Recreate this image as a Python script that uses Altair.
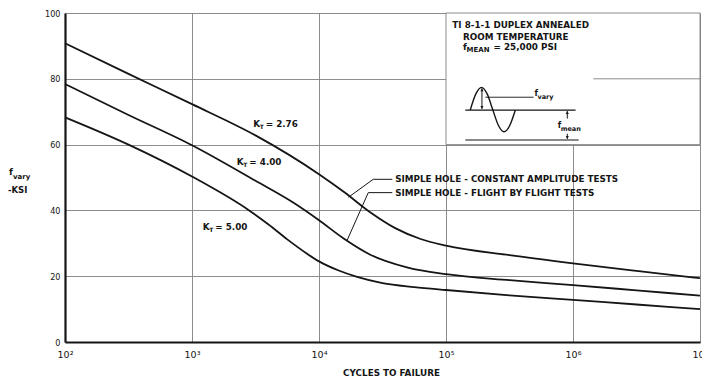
import altair as alt
import pandas as pd

# ---- S-N curves: log10(cycles to failure) and alternating stress f_vary (ksi) ----
kt276_logn = [2.0, 2.5, 3.0, 3.5, 4.0, 4.2, 4.4, 4.6, 4.8, 5.0, 5.5, 6.0, 6.5, 7.0]
kt276_ksi = [90.8, 81.5, 72.3, 62.8, 51.0, 45.5, 39.5, 34.6, 31.3, 29.3, 26.4, 23.9, 21.6, 19.4]

kt400_logn = [2.0, 2.5, 3.0, 3.5, 3.8, 4.0, 4.2, 4.4, 4.7, 5.0, 5.5, 6.0, 6.5, 7.0]
kt400_ksi = [78.4, 69.0, 59.8, 49.0, 42.3, 37.0, 31.3, 26.6, 22.6, 20.6, 18.8, 17.3, 15.7, 14.1]

kt500_logn = [2.0, 2.5, 3.0, 3.45, 3.6, 3.75, 3.9, 4.0, 4.15, 4.3, 4.5, 4.75, 5.0, 5.5, 6.0, 6.5, 7.0]
kt500_ksi = [68.3, 60.0, 50.3, 40.0, 35.8, 31.2, 27.0, 24.5, 21.8, 19.8, 17.9, 16.7, 15.8, 14.2, 12.8, 11.4, 10.0]

# Kt labels next to each curve
kt_values = ["= 2.76", "= 4.00", "= 5.00"]
kt_label_logn = [3.482, 3.353, 3.085]
kt_label_ksi = [66.3, 54.8, 35.0]

# test-type callouts and their leader lines
callout_text = ["SIMPLE HOLE - CONSTANT AMPLITUDE TESTS", "SIMPLE HOLE - FLIGHT BY FLIGHT TESTS"]
callout_logn = [4.60, 4.60]
callout_ksi = [49.45, 45.4]
lead_ca_logn = [4.577, 4.427, 4.232]
lead_ca_ksi = [49.45, 49.45, 44.0]
lead_ff_logn = [4.577, 4.388, 4.220]
lead_ff_ksi = [45.4, 45.4, 30.8]

# legend box contents
box_lines = ["TI 8-1-1 DUPLEX ANNEALED", "ROOM TEMPERATURE"]
box_line_logn = [5.05, 5.134]
box_line_ksi = [96.35, 92.8]
fmean_logn, fmean_ksi = 5.134, 89.8

# loading waveform sketch (cycle: mean level, one full oscillation)
wave_logn = [5.191, 5.235, 5.280, 5.324, 5.369, 5.413, 5.457, 5.502, 5.546]
wave_ksi = [70.5, 75.4, 77.4, 75.4, 70.5, 65.8, 63.9, 65.8, 70.5]
mean_line_logn = [5.152, 6.02]
mean_line_ksi = 70.5
zero_line_logn = [5.152, 6.045]
zero_line_ksi = 61.4
vary_arrow_logn = 5.283
vary_arrow_ksi = [70.8, 77.1]
vary_leader_logn = [5.31, 5.69]
vary_leader_ksi = 74.4
mean_arrow_logn = 5.955
mean_up_ksi = [67.9, 70.2]
mean_down_ksi = [63.3, 61.7]
vary_text_logn, vary_text_ksi = 5.696, 75.4
mean_text_logn, mean_text_ksi = 5.879, 65.7

INK = "#151515"
GRID = "#808080"
FONT = "DejaVu Sans"
FS = 8.8


def p(v):
    return 10 ** v


curves = pd.concat([
    pd.DataFrame({"series": "2.76", "n": [p(v) for v in kt276_logn], "ksi": kt276_ksi}),
    pd.DataFrame({"series": "4.00", "n": [p(v) for v in kt400_logn], "ksi": kt400_ksi}),
    pd.DataFrame({"series": "5.00", "n": [p(v) for v in kt500_logn], "ksi": kt500_ksi}),
])

x_scale = alt.Scale(type="log", domain=[100, 1e7])
y_scale = alt.Scale(domain=[0, 100])

sup = "['²','³','⁴','⁵','⁶','⁷'][round(log(datum.value)/LN10) - 2]"
x_axis = alt.Axis(
    values=[1e2, 1e3, 1e4, 1e5, 1e6, 1e7], labelExpr="'10' + " + sup,
    grid=True, gridColor=GRID, gridWidth=0.9, ticks=False, tickSize=0,
    domainColor=INK, domainWidth=2.2, labelFont=FONT, labelFontSize=9.5,
    labelColor=INK, labelPadding=7, labelFlush=False, labelOverlap=False,
    title="CYCLES TO FAILURE", titleFont=FONT, titleFontSize=FS, titleFontWeight="bold",
    titleColor=INK, titleX=326, titleY=33.5, titleAlign="center", titleBaseline="alphabetic",
)
y_axis = alt.Axis(
    values=[0, 20, 40, 60, 80, 100], grid=True, gridColor=GRID, gridWidth=0.9,
    ticks=False, tickSize=0, domainColor=INK, domainWidth=2.2, labelFont="DejaVu Sans Condensed",
    labelFontSize=9, labelColor=INK, labelPadding=5, labelFlush=False, title=None,
)

X = alt.X("n:Q", scale=x_scale, axis=x_axis)
Y = alt.Y("ksi:Q", scale=y_scale, axis=y_axis)
Xp = alt.X("n:Q")
Yp = alt.Y("ksi:Q")

# white legend box that masks the grid in the upper-right cell block
box = alt.Chart(pd.DataFrame({"n": [1e5], "n2": [1e7], "ksi": [60], "ksi2": [100]})).mark_rect(
    fill="white", stroke=GRID, strokeWidth=0.9
).encode(x=X, x2="n2:Q", y=Y, y2="ksi2:Q")

grid80 = alt.Chart(pd.DataFrame({"n": [p(6.16)], "n2": [1e7], "ksi": [80]})).mark_rule(
    color=GRID, strokeWidth=0.9
).encode(x=Xp, x2="n2:Q", y=Yp)

curve_layer = alt.Chart(curves).mark_line(
    interpolate="monotone", color=INK, strokeWidth=1.8
).encode(x=Xp, y=Yp, detail="series:N")


def polyline(logn, ksi, interp="linear", width=1.0):
    if not isinstance(ksi, list):
        ksi = [ksi] * len(logn)
    if not isinstance(logn, list):
        logn = [logn] * len(ksi)
    df = pd.DataFrame({"n": [p(v) for v in logn], "ksi": ksi, "i": range(len(ksi))})
    return alt.Chart(df).mark_line(interpolate=interp, color=INK, strokeWidth=width).encode(
        x=Xp, y=Yp, order="i:Q"
    )


leaders = [
    polyline(lead_ca_logn, lead_ca_ksi, width=1.0),
    polyline(lead_ff_logn, lead_ff_ksi, width=1.0),
]

sketch = [
    polyline(wave_logn, wave_ksi, interp="monotone", width=1.4),
    polyline(mean_line_logn, mean_line_ksi, width=1.2),
    polyline(zero_line_logn, zero_line_ksi, width=1.2),
    polyline(vary_arrow_logn, vary_arrow_ksi, width=1.0),
    polyline(vary_leader_logn, vary_leader_ksi, width=0.9),
    polyline(mean_arrow_logn, mean_up_ksi, width=1.0),
    polyline(mean_arrow_logn, mean_down_ksi, width=1.0),
]

heads = pd.DataFrame({
    "n": [p(vary_arrow_logn), p(vary_arrow_logn), p(mean_arrow_logn), p(mean_arrow_logn)],
    "ksi": [vary_arrow_ksi[1] - 0.5, vary_arrow_ksi[0] + 0.5, mean_up_ksi[1] - 0.5, mean_down_ksi[1] + 0.5],
    "shape": ["triangle-up", "triangle-down", "triangle-up", "triangle-down"],
})
head_layer = alt.Chart(heads).mark_point(filled=True, color=INK, size=10, opacity=1).encode(
    x=Xp, y=Yp, shape=alt.Shape("shape:N", scale=None)
)


def text_layer(df, size=FS, dx=0, dy=0, bold=True, align="left"):
    return alt.Chart(df).mark_text(
        font=FONT, fontSize=size, fontWeight="bold" if bold else "normal", color=INK,
        align=align, baseline="middle", dx=dx, dy=dy
    ).encode(x=Xp, y=Yp, text="t:N")


kt_df = pd.DataFrame({"n": [p(v) for v in kt_label_logn], "ksi": kt_label_ksi, "v": kt_values})
kt_k = text_layer(kt_df.assign(t="K"))
kt_sub = text_layer(kt_df.assign(t="T"), size=6, dx=6.5, dy=3.5)
kt_val = text_layer(kt_df.assign(t=kt_df["v"]), dx=12.5)

callouts = text_layer(pd.DataFrame({"n": [p(v) for v in callout_logn], "ksi": callout_ksi, "t": callout_text}))

box_df = pd.DataFrame({"n": [p(v) for v in box_line_logn], "ksi": box_line_ksi, "t": box_lines})
box_text = text_layer(box_df)
fm = pd.DataFrame({"n": [p(fmean_logn)], "ksi": [fmean_ksi]})
fm_f = text_layer(fm.assign(t="f"))
fm_sub = text_layer(fm.assign(t="MEAN"), size=7, dx=3.5, dy=3.5)
fm_val = text_layer(fm.assign(t="= 25,000  PSI"), dx=30.5)

fv = pd.DataFrame({"n": [p(vary_text_logn)], "ksi": [vary_text_ksi]})
fv_f = text_layer(fv.assign(t="f"), size=8)
fv_sub = text_layer(fv.assign(t="vary"), size=6.5, dx=3, dy=3)
fmn = pd.DataFrame({"n": [p(mean_text_logn)], "ksi": [mean_text_ksi]})
fmn_f = text_layer(fmn.assign(t="f"), size=8)
fmn_sub = text_layer(fmn.assign(t="mean"), size=6.5, dx=3, dy=3)

# vertical axis caption: f_vary -KSI
y_cap_f = alt.Chart(pd.DataFrame({"t": ["f"]})).mark_text(
    font=FONT, fontSize=9, fontWeight="bold", color=INK, align="left", baseline="alphabetic").encode(
    x=alt.value(-56), y=alt.value(162), text="t:N")
y_cap_sub = alt.Chart(pd.DataFrame({"t": ["vary"]})).mark_text(
    font=FONT, fontSize=7, fontWeight="bold", color=INK, align="left", baseline="alphabetic").encode(
    x=alt.value(-52), y=alt.value(166), text="t:N")
y_cap_ksi = alt.Chart(pd.DataFrame({"t": ["-KSI"]})).mark_text(
    font=FONT, fontSize=8.5, fontWeight="bold", color=INK, align="left", baseline="alphabetic").encode(
    x=alt.value(-57), y=alt.value(180), text="t:N")

chart = alt.layer(
    box, grid80, curve_layer, *leaders, *sketch, head_layer,
    kt_k, kt_sub, kt_val, callouts, box_text, fm_f, fm_sub, fm_val,
    fv_f, fv_sub, fmn_f, fmn_sub, y_cap_f, y_cap_sub, y_cap_ksi,
).properties(
    width=635, height=329,
    autosize=alt.AutoSizeParams(type="none"),
    padding={"left": 65, "top": 13, "right": 2, "bottom": 38},
    background="white",
).configure_view(stroke=None)

chart.save("out.html", embed_options={"renderer": "svg", "actions": False})
